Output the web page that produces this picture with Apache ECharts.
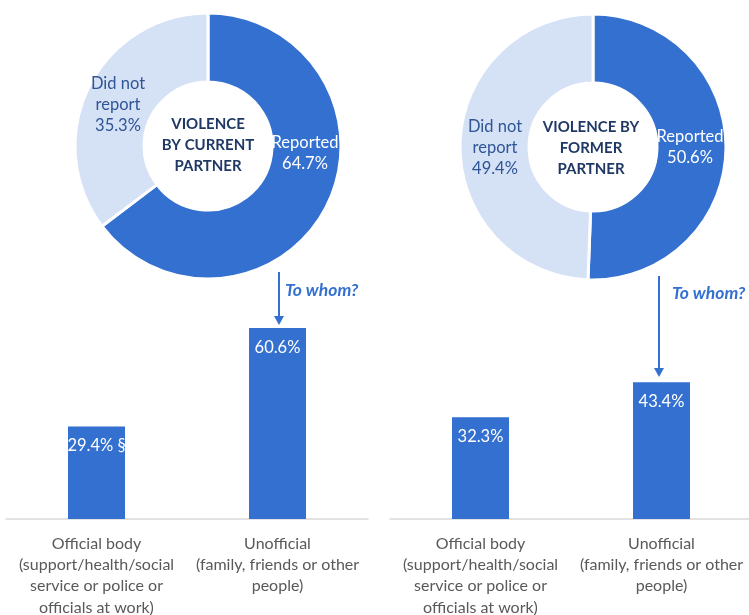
<!DOCTYPE html>
<html>
<head>
<meta charset="utf-8">
<title>Reporting of partner violence</title>
<script src="https://cdn.jsdelivr.net/npm/echarts@6/dist/echarts.min.js"></script>
<style>
  html, body { margin: 0; padding: 0; background: #fff; }
  #chart { width: 749px; height: 615px; }
</style>
</head>
<body>
<div id="chart"></div>
<script>
// donut data
const donutNames = ['Reported', 'Did not\nreport'];
const currentPartnerShares = [64.7, 35.3];
const formerPartnerShares = [50.6, 49.4];
const donutTitles = ['VIOLENCE\nBY CURRENT\nPARTNER', 'VIOLENCE BY\nFORMER\nPARTNER'];

// bar data
const barCategories = [
    'Official body\n(support/health/social\nservice or police or\nofficials at work)',
    'Unofficial\n(family, friends or other\npeople)'
];
const currentPartnerBars = [29.4, 60.6];
const formerPartnerBars = [32.3, 43.4];
const currentBarNotes = [' \u00a7', ''];
const formerBarNotes = ['', ''];
const arrowText = 'To whom?';

const DARK = '#3370D0';
const LIGHT = '#D5E1F5';
const NAVY = '#1F3864';
const FONT = 'Lato, "Open Sans", sans-serif';

const chart = echarts.init(document.getElementById('chart'));

// label spots inside the rings (reported, did not report)
const labelSpots = [
    [[305, 153], [118, 105]],
    [[690, 147], [495, 148]]
];

function donut(idx, shares, center) {
    return {
        type: 'pie',
        radius: [64, 133],
        center: center,
        startAngle: 90,
        clockwise: true,
        silent: true,
        itemStyle: { borderColor: '#fff', borderWidth: 3 },
        label: {
            show: true,
            position: 'inside',
            fontFamily: FONT,
            fontSize: 16.5,
            lineHeight: 21,
            align: 'center',
            formatter: p => p.name + '\n' + p.value.toFixed(1) + '%'
        },
        labelLine: { show: false },
        labelLayout: p => ({
            x: labelSpots[idx][p.dataIndex][0],
            y: labelSpots[idx][p.dataIndex][1],
            align: 'center',
            verticalAlign: 'middle'
        }),
        data: shares.map((v, i) => ({
            name: donutNames[i],
            value: v,
            itemStyle: { color: i === 0 ? DARK : LIGHT },
            label: { color: i === 0 ? '#fff' : '#2F5597' }
        }))
    };
}

function bars(gridIdx, values, notes) {
    return {
        type: 'bar',
        xAxisIndex: gridIdx,
        yAxisIndex: gridIdx,
        barWidth: 57,
        silent: true,
        itemStyle: { color: DARK },
        label: {
            show: true,
            position: 'insideTop',
            distance: 11,
            color: '#fff',
            fontFamily: FONT,
            fontSize: 16.5,
            formatter: p => p.value.toFixed(1) + '%' + notes[p.dataIndex]
        },
        data: values
    };
}

const xAxisBase = {
    type: 'category',
    data: barCategories,
    axisLine: { lineStyle: { color: '#D9D9D9', width: 1.5 } },
    axisTick: { show: false },
    axisLabel: {
        interval: 0,
        color: '#595959',
        fontFamily: FONT,
        fontSize: 16,
        lineHeight: 21.3,
        margin: 14
    }
};
const yAxisBase = { type: 'value', min: 0, max: 70, show: false, splitLine: { show: false } };

function arrow(x, y1, y2) {
    return [
        { type: 'line', shape: { x1: x, y1: y1, x2: x, y2: y2 - 6 }, style: { stroke: DARK, lineWidth: 2 } },
        { type: 'polygon', shape: { points: [[x - 5, y2 - 9], [x + 5, y2 - 9], [x, y2]] }, style: { fill: DARK } }
    ];
}

function centerTitle(text, x, y) {
    return {
        type: 'text', x: x, y: y,
        style: {
            text: text, align: 'center', verticalAlign: 'middle',
            fontFamily: FONT, fontWeight: 'bold', fontSize: 15, lineHeight: 21, fill: NAVY
        }
    };
}

function askText(x, y) {
    return {
        type: 'text', x: x, y: y,
        style: {
            text: arrowText, align: 'left', verticalAlign: 'middle',
            fontFamily: FONT, fontStyle: 'italic', fontWeight: 'bold', fontSize: 17.5, fill: DARK
        }
    };
}

const option = {
    animation: false,
    backgroundColor: '#fff',
    grid: [
        { left: 6, top: 298.5, width: 362, height: 220.5, outerBoundsMode: 'none' },
        { left: 390, top: 298.5, width: 362, height: 220.5, outerBoundsMode: 'none' }
    ],
    xAxis: [Object.assign({ gridIndex: 0 }, xAxisBase), Object.assign({ gridIndex: 1 }, xAxisBase)],
    yAxis: [Object.assign({ gridIndex: 0 }, yAxisBase), Object.assign({ gridIndex: 1 }, yAxisBase)],
    series: [
        donut(0, currentPartnerShares, [208, 146]),
        donut(1, formerPartnerShares, [593, 147]),
        bars(0, currentPartnerBars, currentBarNotes),
        bars(1, formerPartnerBars, formerBarNotes)
    ],
    graphic: [
        centerTitle(donutTitles[0], 208, 145),
        centerTitle(donutTitles[1], 591, 148),
        ...arrow(279, 272, 325),
        ...arrow(659, 276, 377),
        askText(285, 290),
        askText(672, 293)
    ]
};

chart.setOption(option);
</script>
</body>
</html>
